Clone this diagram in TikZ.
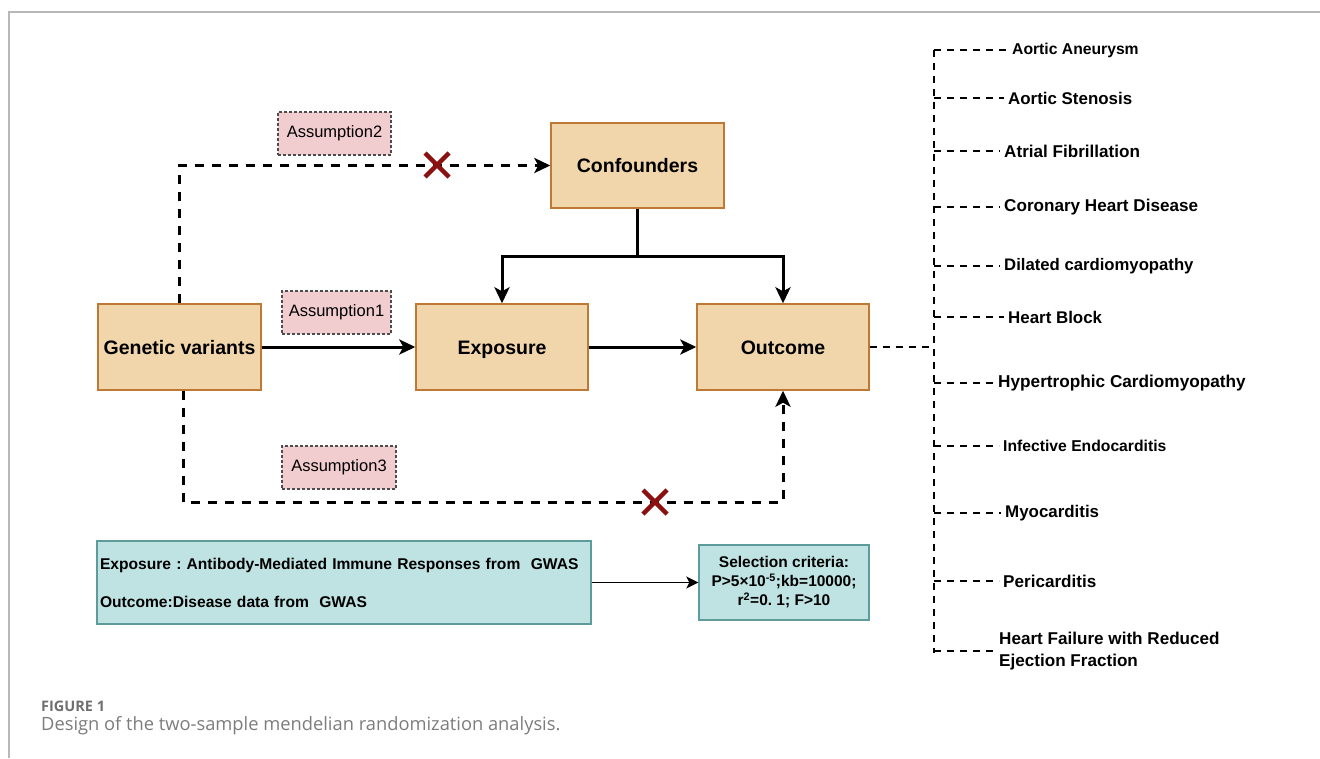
\documentclass[tikz,border=0pt]{standalone}
\usepackage{fontspec}
\setmainfont{Liberation Sans}
\newfontfamily\capfont{Open Sans}
\usetikzlibrary{arrows.meta,positioning}

\definecolor{boxfill}{HTML}{F1D6AB}
\definecolor{boxline}{HTML}{BE7A34}
\definecolor{asfill}{HTML}{F2CDD0}
\definecolor{datafill}{HTML}{BFE3E3}
\definecolor{dataline}{HTML}{5E9C9C}
\definecolor{crossred}{HTML}{8B1010}
\definecolor{capgray}{HTML}{7C7C7C}

\frenchspacing

\begin{document}
\begin{tikzpicture}[x=1pt,y=-1pt,>={Stealth[length=16pt,width=15pt,inset=4pt]},
    mainbox/.style={draw=boxline,fill=boxfill,line width=1.4pt,minimum height=86pt,
        font=\fontsize{19.5}{22}\selectfont\bfseries,inner sep=0pt,text height=14pt,text depth=0pt},
    assume/.style={draw=black!70,dash pattern=on 3pt off 2pt,line width=1.2pt,fill=asfill,
        minimum height=43pt,font=\fontsize{16.5}{19}\selectfont,inner sep=0pt},
    databox/.style={draw=dataline,fill=datafill,line width=1.4pt,inner sep=3pt},
    causal/.style={->,line width=3pt},
    blocked/.style={->,line width=3pt,dash pattern=on 9pt off 8pt},
    branch/.style={line width=2.8pt,dash pattern=on 7pt off 6pt},
    disease/.style={anchor=west,inner sep=0pt,align=left},
    cross/.style={crossred,line width=4.5pt}]

    \useasboundingbox (0,0) rectangle (1320,758);

    % frame of the figure
    \draw [black!28,line width=1.5pt] (9,758) -- (9,12) -- (1320,12);

    % main boxes
    \node [mainbox,minimum width=163pt] (gv) at (179.5,347) {Genetic variants};
    \node [mainbox,minimum width=172pt] (exp) at (502,347) {Exposure};
    \node [mainbox,minimum width=172pt] (out) at (783,347) {Outcome};
    \node [mainbox,minimum width=173pt,minimum height=85pt] (conf) at (637.5,165.5) {Confounders};

    % assumption tags
    \node [assume,minimum width=113pt] (as2) at (334.5,133.5) {Assumption2};
    \node [assume,minimum width=109pt] (as1) at (336.5,312.5) {Assumption1};
    \node [assume,minimum width=114pt] (as3) at (339,467.5) {Assumption3};

    % Assumption1: variants -> exposure -> outcome
    \draw [causal] (gv) -- (exp);
    \draw [causal] (exp) -- (out);

    % confounders act on both
    \draw [line width=3pt] (conf.south) -- ++(0,48) coordinate (split);
    \draw [causal] (split) -| (exp.north);
    \draw [causal] (split) -| (out.north);

    % Assumption2 and Assumption3 (violated paths)
    \draw [blocked] (gv.north) |- (conf.west);
    \coordinate (low) at (183,502);
    \draw [blocked] (gv.south -| low) -- (low) -| (out.south);

    \draw [cross] (425,153) -- (449,177) (449,153) -- (425,177);
    \draw [cross] (643,490) -- (667,514) (667,490) -- (643,514);

    % outcomes list
    \coordinate (top) at (934,50);
    \coordinate (bot) at (934,653);
    \draw [branch] (top) -- (bot);
    \draw [branch] (out.east) -- (out.east -| top);

    \foreach \name/\ty/\tx/\fs/\txt in {
        d1/50/1012/15.7/Aortic Aneurysm,
        d2/98/1008/16.9/Aortic Stenosis,
        d3/151/1004/17.1/Atrial Fibrillation,
        d4/207/1004/17.1/Coronary Heart Disease,
        d5/266/1004/16.7/Dilated cardiomyopathy,
        d6/317/1008/16.9/Heart Block,
        d7/383/998/17.2/Hypertrophic Cardiomyopathy,
        d8/446/1003/15.7/Infective Endocarditis,
        d9/513/1005/16.9/Myocarditis,
        d10/581/1003/17.1/Pericarditis,
        d11/651/999/17.1/{Heart Failure with Reduced\\Ejection Fraction}} {
        \node [disease,font=\fontsize{\fs}{21.5}\selectfont\bfseries] (\name) at (\tx,\ty) {\txt};
        \draw [branch,shorten >=4pt] (top |- \name.west) -- (\name.west);
    }

    % data sources and selection
    \node [databox,font=\fontsize{15.6}{19}\selectfont\bfseries,minimum width=494pt,minimum height=83pt,
        text width=488pt,align=left] (data) at (344,582.5)
        {Exposure : Antibody-Mediated Immune Responses from\ \ GWAS\\[19pt]Outcome:Disease data from\ \ GWAS};
    \node [databox,font=\fontsize{15.5}{19}\selectfont\bfseries,minimum width=170pt,minimum height=75pt,
        align=center] (sel) at (784,582.5)
        {Selection criteria:\\P>5×10\textsuperscript{-5};kb=10000;\\r\textsuperscript{2}=0. 1; F>10};
    \draw [->,line width=1.4pt,>={Stealth[length=12pt,width=12pt,inset=3pt]}] (data) -- (sel);

    % caption
    \node [anchor=west,inner sep=0pt,text=capgray!110,font=\capfont\bfseries\fontsize{14.5}{16}\selectfont] (figno) at (41,706) {FIGURE 1};
    \node [anchor=west,inner sep=0pt,text=capgray,font=\capfont\fontsize{18.3}{20}\selectfont] (caption) at (41,726) {Design of the two-sample mendelian randomization analysis.};

\end{tikzpicture}
\end{document}
